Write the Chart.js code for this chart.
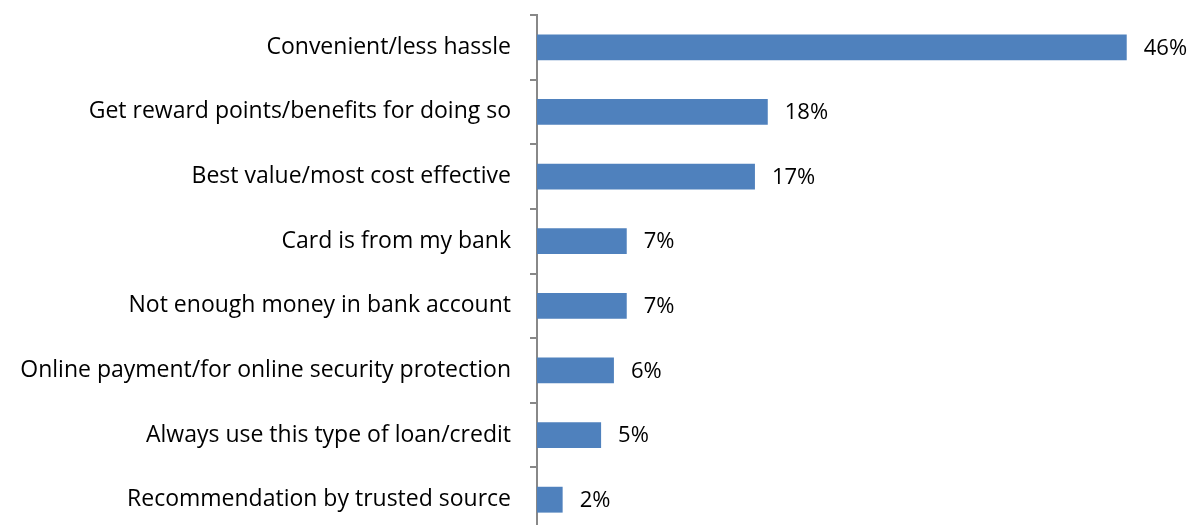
<!DOCTYPE html>
<html>
<head>
<meta charset="utf-8">
<script src="https://cdn.jsdelivr.net/npm/chart.js@4"></script>
<style>
  html, body { margin: 0; padding: 0; background: #fff; overflow: hidden; }
  #wrap { width: 1199px; height: 525px; overflow: hidden; }
  #box { width: 1199px; height: 540px; position: relative; }
</style>
</head>
<body>
<div id="wrap"><div id="box"><canvas id="myChart"></canvas></div></div>
<script>
var reasons = ["Convenient/less hassle", "Get reward points/benefits for doing so", "Best value/most cost effective",
    "Card is from my bank", "Not enough money in bank account", "Online payment/for online security protection",
    "Always use this type of loan/credit", "Recommendation by trusted source"];
var shares = [46, 18, 17, 7, 7, 6, 5, 2];
var FONT = "'Open Sans', sans-serif";

// percent labels to the right of each bar
var valueLabels = {
    id: "valueLabels",
    afterDatasetsDraw: function (chart) {
        var ctx = chart.ctx;
        var meta = chart.getDatasetMeta(0);
        ctx.save();
        ctx.font = "22px " + FONT;
        ctx.fillStyle = "#000";
        ctx.textAlign = "left";
        ctx.textBaseline = "middle";
        meta.data.forEach(function (bar, i) {
            ctx.fillText(shares[i] + "%", bar.x + 17, bar.y + 1);
        });
        ctx.restore();
    }
};

var myChart = document.getElementById("myChart").getContext("2d");
var barChart = new Chart(myChart, {
    type: "bar",
    data: {
        labels: reasons,
        datasets: [{
            data: shares,
            backgroundColor: "#4F81BD",
            borderWidth: 0,
            barPercentage: 0.4,
            categoryPercentage: 1
        }]
    },
    options: {
        indexAxis: "y",
        responsive: true,
        maintainAspectRatio: false,
        animation: false,
        layout: { padding: { top: 15, right: 21, bottom: 8, left: 0 } },
        plugins: { legend: { display: false }, tooltip: { enabled: false } },
        scales: {
            x: { display: false, min: 0, max: 50 },
            y: {
                afterFit: function (scale) {
                    scale.width = 537;
                    scale.paddingTop = 0;
                    scale.paddingBottom = 0;
                },
                border: { color: "#888888", width: 2 },
                grid: {
                    offset: true,
                    drawOnChartArea: false,
                    color: "#888888",
                    lineWidth: 2,
                    tickLength: 7
                },
                ticks: {
                    padding: 19,
                    color: "#000",
                    font: { size: 23, family: FONT }
                }
            }
        }
    },
    plugins: [valueLabels]
});
</script>
</body>
</html>
